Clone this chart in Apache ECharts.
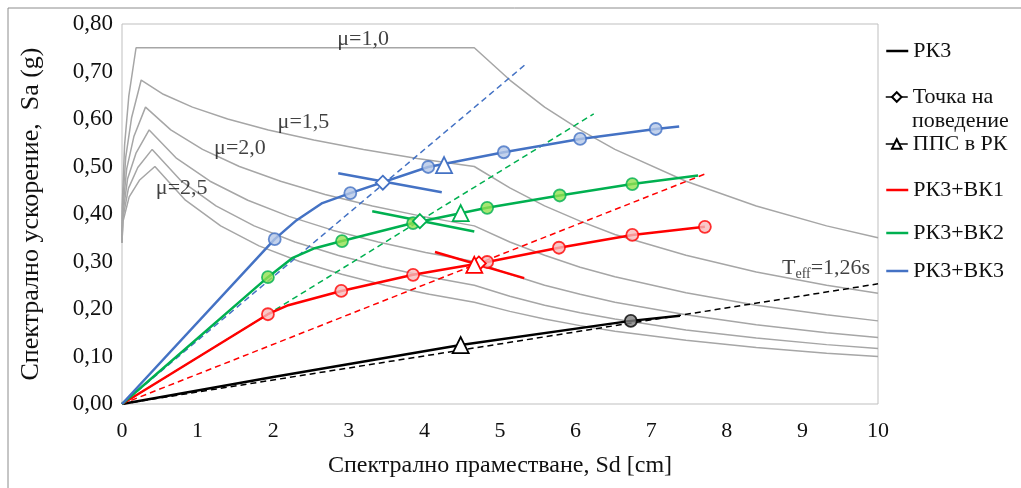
<!DOCTYPE html>
<html>
<head>
<meta charset="utf-8">
<script src="https://cdn.jsdelivr.net/npm/echarts@6/dist/echarts.min.js"></script>
<style>
html, body { margin: 0; padding: 0; background: #fff; }
#chart { width: 1021px; height: 488px; }
</style>
</head>
<body>
<div id="chart"></div>
<script>
// спектри на изискванията (ADRS), [Sd cm, Sa g], отчетени от фигурата
var mu10 = [[0,0.34],[0.004,0.422],[0.034,0.545],[0.09,0.648],[0.186,0.75],[4.66,0.75],[5.13,0.682],[5.59,0.625],[6.06,0.577],[6.52,0.536],[7.46,0.469],[8.39,0.417],[9.32,0.375],[10,0.35]];
var mu15 = [[0,0.34],[0.006,0.414],[0.049,0.519],[0.126,0.602],[0.254,0.682],[0.547,0.652],[0.932,0.625],[1.398,0.6],[1.936,0.577],[2.537,0.556],[3.195,0.536],[3.905,0.517],[4.66,0.5],[5.13,0.455],[5.59,0.417],[6.06,0.385],[6.52,0.357],[7.46,0.313],[8.39,0.278],[9.32,0.25],[10,0.233]];
var mu20 = [[0,0.34],[0.008,0.406],[0.062,0.495],[0.157,0.563],[0.311,0.625],[0.645,0.577],[1.065,0.536],[1.553,0.5],[2.098,0.469],[2.686,0.441],[3.313,0.417],[3.974,0.395],[4.66,0.375],[5.13,0.341],[5.59,0.313],[6.06,0.288],[6.52,0.268],[7.46,0.234],[8.39,0.208],[9.32,0.188],[10,0.175]];
var mu25 = [[0,0.34],[0.01,0.398],[0.074,0.474],[0.185,0.528],[0.359,0.577],[0.723,0.517],[1.165,0.469],[1.664,0.429],[2.208,0.395],[2.784,0.366],[3.389,0.341],[4.016,0.319],[4.66,0.3],[5.13,0.273],[5.59,0.25],[6.06,0.231],[6.52,0.214],[7.46,0.188],[8.39,0.167],[9.32,0.15],[10,0.14]];
var mu30 = [[0,0.34],[0.012,0.391],[0.085,0.454],[0.209,0.498],[0.399,0.536],[0.786,0.469],[1.243,0.417],[1.748,0.375],[2.288,0.341],[2.854,0.313],[3.441,0.289],[4.045,0.268],[4.66,0.25],[5.13,0.227],[5.59,0.208],[6.06,0.192],[6.52,0.179],[7.46,0.156],[8.39,0.139],[9.32,0.125],[10,0.117]];
var mu35 = [[0,0.34],[0.013,0.384],[0.095,0.436],[0.23,0.471],[0.435,0.5],[0.839,0.429],[1.305,0.375],[1.812,0.333],[2.349,0.3],[2.906,0.273],[3.479,0.25],[4.065,0.231],[4.66,0.214],[5.13,0.195],[5.59,0.179],[6.06,0.165],[6.52,0.153],[7.46,0.134],[8.39,0.119],[9.32,0.107],[10,0.1]];

// криви на капацитета
var rk3    = [[0,0],[2,0.057],[4.48,0.124],[6.73,0.175],[7.38,0.186]];
var rk3vk1 = [[0,0],[1.93,0.189],[2.2,0.208],[2.9,0.238],[3.85,0.272],[4.83,0.299],[5.78,0.329],[6.75,0.356],[7.71,0.373]];
var rk3vk2 = [[0,0],[1.93,0.267],[2.25,0.307],[2.55,0.328],[2.91,0.343],[3.85,0.381],[4.83,0.413],[5.79,0.439],[6.75,0.463],[7.62,0.481]];
var rk3vk3 = [[0,0],[2.02,0.347],[2.31,0.387],[2.65,0.423],[3.02,0.444],[4.05,0.499],[5.05,0.53],[6.06,0.558],[7.06,0.579],[7.37,0.584]];

// стъпки (кръгчета) върху кривите
var rk3Pts = [[6.73,0.175]];
var vk1Pts = [[1.93,0.189],[2.9,0.238],[3.85,0.272],[4.83,0.299],[5.78,0.329],[6.75,0.356],[7.71,0.373]];
var vk2Pts = [[1.93,0.267],[2.91,0.343],[3.85,0.381],[4.83,0.413],[5.79,0.439],[6.75,0.463]];
var vk3Pts = [[2.02,0.347],[3.02,0.444],[4.05,0.499],[5.05,0.53],[6.06,0.558],[7.06,0.579]];

// ефективни периоди (пунктир)
var teffRk3 = [[0,0],[10,0.253]];
var teffVk1 = [[0,0],[7.74,0.486]];
var teffVk2 = [[0,0],[6.24,0.611]];
var teffVk3 = [[0,0],[5.36,0.718]];

// спектър при точката на поведение
var demVk1 = [[4.14,0.32],[5.32,0.265]];
var demVk2 = [[3.31,0.406],[4.66,0.363]];
var demVk3 = [[2.86,0.486],[4.23,0.446]];

// точки на поведение и ППС
var perfPts = [[4.72,0.296],[3.94,0.385],[3.45,0.466]];
var ppsPts  = [[4.48,0.124],[4.66,0.293],[4.48,0.402],[4.26,0.503]];

var muLabels = [['μ=1,0',3.19,0.769],['μ=1,5',2.40,0.594],['μ=2,0',1.56,0.539],['μ=2,5',0.79,0.455]];

var C_RED = '#ff0000', C_GREEN = '#00b050', C_BLUE = '#4472c4', C_GRAY = '#a6a6a6';
var FONT = 'Liberation Serif';

var myChart = echarts.init(document.getElementById('chart'));

function grayLine(d) {
    return { type:'line', data:d, symbol:'none', silent:true, z:1,
             lineStyle:{ color:C_GRAY, width:1.5 } };
}
function dashLine(d, c) {
    return { type:'line', data:d, symbol:'none', silent:true, z:2,
             lineStyle:{ color:c, width:1.5, type:[6,4] } };
}
function solidLine(name, d, c) {
    return { name:name, type:'line', data:d, symbol:'none', silent:true, z:3,
             color:c, lineStyle:{ color:c, width:2.5 } };
}
function dots(d, c, fill) {
    return { type:'scatter', data:d, symbol:'circle', symbolSize:12, silent:true, z:5,
             itemStyle:{ color:fill, borderColor:c, borderWidth:1.8 } };
}
function oneLegend(name, center, fmt, marker) {
    var item = { name:name, lineStyle:{ opacity:1, width:2.5 } };
    if (marker) item.lineStyle = { opacity:1, width:1.5, color:'#000' };
    else item.itemStyle = { opacity:0 };
    return { data:[item],
             left:885, top:center - 12, padding:0, itemWidth:22, itemHeight:12,
             formatter: fmt || '{name}', selectedMode:false,
             textStyle:{ fontFamily:FONT, fontSize:22, color:'#111', lineHeight:24 } };
}

var borderCols = ['#000', C_RED, C_GREEN, C_BLUE];

var option = {
    animation:false,
    backgroundColor:'#fff',
    grid:{ left:122, right:143, top:24, bottom:84, show:true, borderColor:'#bfbfbf', borderWidth:1 },
    xAxis:{
        type:'value', min:0, max:10, interval:1,
        name:'Спектрално праместване, Sd [cm]', nameLocation:'middle', nameGap:50,
        nameTextStyle:{ fontFamily:FONT, fontSize:24, color:'#111' },
        axisLine:{ show:false }, axisTick:{ show:false }, splitLine:{ show:false },
        axisLabel:{ fontFamily:FONT, fontSize:22, color:'#111', margin:16 }
    },
    yAxis:{
        type:'value', min:0, max:0.8, interval:0.1,
        name:'Спектрално ускорение,  Sa (g)', nameLocation:'middle', nameGap:78, nameMoveOverlap:false,
        nameTextStyle:{ fontFamily:FONT, fontSize:26, color:'#111' },
        axisLine:{ show:false }, axisTick:{ show:false }, splitLine:{ show:false },
        axisLabel:{ fontFamily:FONT, fontSize:23, color:'#111', margin:9,
                    formatter:function (v) { return v.toFixed(2).replace('.', ','); } }
    },
    legend:[
        oneLegend('РК3', 51),
        oneLegend('Точка на поведение', 97, 'Точка на', true),
        oneLegend('ППС в РК', 144, null, true),
        oneLegend('РК3+ВК1', 190),
        oneLegend('РК3+ВК2', 233),
        oneLegend('РК3+ВК3', 271)
    ],
    graphic:[
        { type:'polyline', silent:true, shape:{ points:[[8,488],[8,8],[1021,8]] },
          style:{ stroke:'#8c8c8c', lineWidth:1, fill:null } },
        { type:'text', x:912, y:121, silent:true,
          style:{ text:'поведение', fontFamily:FONT, fontSize:22, fill:'#111', verticalAlign:'middle' } }
    ],
    series:[
        grayLine(mu10), grayLine(mu15), grayLine(mu20), grayLine(mu25), grayLine(mu30), grayLine(mu35),
        dashLine(teffRk3, '#000'), dashLine(teffVk1, C_RED), dashLine(teffVk2, C_GREEN), dashLine(teffVk3, C_BLUE),
        solidLine('РК3', rk3, '#000'),
        solidLine('РК3+ВК1', rk3vk1, C_RED),
        solidLine('РК3+ВК2', rk3vk2, C_GREEN),
        solidLine('РК3+ВК3', rk3vk3, C_BLUE),
        solidLine('', demVk1, C_RED), solidLine('', demVk2, C_GREEN), solidLine('', demVk3, C_BLUE),
        dots(rk3Pts, '#000', '#7f7f7f'),
        dots(vk1Pts, C_RED, '#f6bcbc'),
        dots(vk2Pts, C_GREEN, '#92e050'),
        dots(vk3Pts, C_BLUE, '#b4c7e7'),
        {
            name:'Точка на поведение', type:'line', symbol:'diamond', symbolSize:14, silent:true, z:6,
            lineStyle:{ opacity:0, width:1.5, color:'#000' },
            itemStyle:{ color:'#fff', borderColor:'#000', borderWidth:1.8 },
            data: perfPts.map(function (p, i) {
                return { value:p, itemStyle:{ borderColor:borderCols[i + 1] } };
            })
        },
        {
            name:'ППС в РК', type:'line', symbol:'triangle', symbolSize:16, silent:true, z:6,
            lineStyle:{ opacity:0, width:1.5, color:'#000' },
            itemStyle:{ color:'#fff', borderColor:'#000', borderWidth:1.8 },
            data: ppsPts.map(function (p, i) {
                return { value:p, itemStyle:{ borderColor:borderCols[i] } };
            })
        },
        {
            type:'scatter', symbolSize:0, silent:true, z:7,
            data: muLabels.map(function (m) { return { name:m[0], value:[m[1], m[2]] }; }),
            label:{ show:true, position:'inside', formatter:'{b}',
                    fontFamily:FONT, fontSize:22, color:'#111' }
        },
        {
            type:'scatter', symbolSize:0, silent:true, z:7,
            data:[{ name:'Teff', value:[8.73, 0.286] }],
            label:{ show:true, position:'right', distance:0,
                    formatter:'{a|T}{b|eff}{a|=1,26s}',
                    rich:{
                        a:{ fontFamily:FONT, fontSize:22, color:'#111' },
                        b:{ fontFamily:FONT, fontSize:14, color:'#111', verticalAlign:'bottom', padding:[12,0,0,0] }
                    } }
        }
    ]
};

myChart.setOption(option);
</script>
</body>
</html>
